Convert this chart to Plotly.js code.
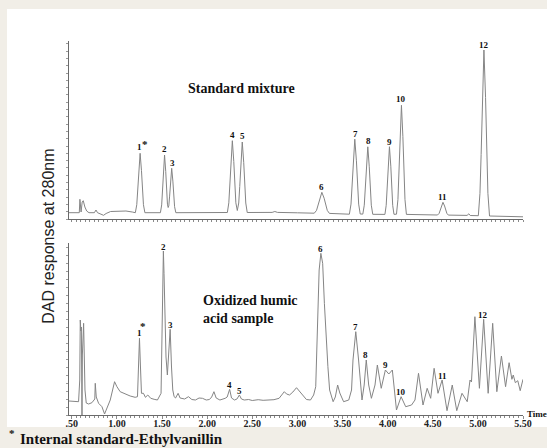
<!DOCTYPE html>
<html>
<head>
<meta charset="utf-8">
<script src="https://cdn.plot.ly/plotly-3.0.1.min.js"></script>
<style>
  html, body { margin: 0; padding: 0; background: #f1eee7; }
  #chart { width: 547px; height: 448px; }
</style>
</head>
<body>
<div id="chart"></div>
<script>
// ---- Data (retention time in min, DAD response in arbitrary units) ----
const timeTicks = [0.5, 1.0, 1.5, 2.0, 2.5, 3.0, 3.5, 4.0, 4.5, 5.0, 5.5];
const timeTickText = ['.50', '1.00', '1.50', '2.00', '2.50', '3.00', '3.50', '4.00', '4.50', '5.00', '5.50'];

// Standard mixture trace
const stdTime = [0.469,0.583,0.590,0.596,0.603,0.615,0.627,0.645,0.665,0.690,0.750,0.768,0.785,0.852,0.880,0.930,1.000,1.100,1.170,
  1.204,1.220,1.231,1.242,1.257,1.272,1.283,1.294,1.310,
  1.482,1.496,1.505,1.515,1.528,1.541,1.551,1.560,1.568,1.575,1.584,1.594,1.607,1.620,1.630,1.639,1.653,
  2.000,2.224,2.240,2.251,2.263,2.279,2.295,2.307,2.318,2.334,2.350,2.361,2.373,2.389,2.405,2.417,2.428,2.444,
  2.600,2.720,2.750,2.780,3.000,
  3.187,3.212,3.229,3.247,3.271,3.296,3.313,3.331,3.355,3.450,
  3.576,3.594,3.606,3.619,3.636,3.654,3.666,3.679,3.696,
  3.725,3.741,3.752,3.764,3.780,3.796,3.808,3.819,3.835,
  3.970,3.984,3.995,4.005,4.020,4.035,4.045,4.056,4.070,
  4.098,4.114,4.125,4.137,4.153,4.169,4.181,4.192,4.208,4.400,
  4.553,4.571,4.583,4.596,4.613,4.631,4.643,4.656,4.673,
  4.880,4.900,4.915,
  5.005,5.023,5.036,5.049,5.067,5.085,5.098,5.111,5.129,5.300,5.500];
const stdResponse = [6.3,6.3,19.7,8,7,17,18.3,12,8,6.3,6.3,9,6.3,3.7,5.5,7.5,8,8,7,
  6.3,14.3,28.2,48.6,65.7,48.6,28.2,14.3,6.3,
  6.3,14.1,27.6,47.4,64,47.4,27.6,14.8,11.5,13.2,22.9,37.9,50.7,37.9,22.7,12.3,6.3,
  6.5,6.5,16.2,33,57.6,78.3,57.6,33,16.2,8.5,16,32.5,56.7,77,56.7,32.5,16,6.5,
  6.5,6.6,7.5,6.6,6.2,
  5.8,8.6,13.5,20.8,26.7,20.8,13.5,8.6,5.6,5.1,
  4.8,14.9,32.5,58.2,79.8,58.2,32.5,14.9,5,
  4.9,13.8,29.6,52.8,72.2,52.8,29.6,13.8,4.7,
  4.6,13.7,29.6,52.8,72.3,52.8,29.6,13.7,4.7,
  4.8,19.4,44.9,82.3,113.7,82.3,44.9,19.4,4.6,4.2,
  4,5.7,8.7,13,16.7,13,8.7,5.7,3.9,
  3.6,5.2,3.5,
  3.3,25.7,64.6,121.5,169,121.5,64.6,25.7,3,2.6,2.2];

// Oxidized humic acid sample trace
const sampleTime = [0.469,0.575,0.588,0.594,0.600,0.606,0.610,0.613,0.617,0.624,0.631,0.638,0.646,0.660,0.686,0.723,0.755,0.760,0.771,
  0.797,0.834,0.863,0.889,0.926,0.974,1.000,1.036,1.092,1.147,1.202,1.228,1.239,1.250,1.261,1.272,1.294,1.316,1.342,1.375,1.412,1.449,
  1.489,1.500,1.507,1.515,1.522,1.533,1.544,1.559,1.575,1.590,1.605,1.619,1.634,1.650,1.678,1.700,1.750,1.793,1.830,1.870,1.910,1.948,
  1.990,2.025,2.050,2.075,2.100,2.141,2.200,2.222,2.249,2.270,2.303,2.330,2.357,2.380,2.411,2.460,2.500,2.566,2.620,2.680,2.740,2.797,
  2.830,2.855,2.880,2.913,2.950,2.990,3.030,3.068,3.100,3.145,3.180,3.203,3.222,3.241,3.260,3.280,3.299,3.318,3.338,3.357,3.396,3.420,
  3.446,3.470,3.512,3.569,3.600,3.616,3.647,3.678,3.716,3.740,3.763,3.790,3.820,3.860,3.886,3.929,3.975,4.013,4.052,4.075,4.098,4.149,
  4.200,4.265,4.303,4.342,4.392,4.438,4.477,4.515,4.558,4.604,4.658,4.716,4.766,4.824,4.882,4.913,4.929,4.967,5.017,5.064,5.114,5.164,
  5.210,5.261,5.307,5.346,5.377,5.392,5.415,5.442,5.469,5.500];
const sampleResponse = [14,13.3,35,95,84,88,55,0,60,86,91.7,60,25,12,11,12.3,16,31.7,18,
  11.7,8.3,1,6.7,15,33.3,28.3,23.3,21,19,17.7,18.3,48,76.7,48,21.7,21.7,17.7,20,16.7,15.7,15,
  21.7,75,135,164,141.7,108,58,40,65,85.7,48,25,18.3,17,21.7,17,16,18.3,15.5,15,17,16.7,
  15,15.5,18,23.3,17,15,16.7,18,25.7,17,15,16,20,16,15,15.5,14.5,15.3,14.7,15,15.3,16.7,
  20,23.3,21,20,23,27.3,23,18.3,15.5,15,20,28.3,95,145,161.7,151.7,111.7,78.3,48.3,25,13.3,18,
  30,22,13.3,15,25,55,83.3,55,15,30,55,30,16.7,30,50,26.7,45,41,45,25,5,18.3,
  8.3,10,15,41.7,10,26.7,16.7,46.7,21.7,35,4.3,30,4.3,21.7,13.3,35,33,98.3,26.7,95.7,21.7,91.7,
  23.3,59,28.3,52.3,35.7,40,32.3,34.3,24.3,35.7];

// Peak labels (label text, retention time, label height)
const stdPeakIds = ['1','*','2','3','4','5','6','7','8','9','10','11','12'];
const stdPeakTime = [1.246,1.312,1.528,1.614,2.279,2.393,3.271,3.644,3.788,4.020,4.153,4.613,5.067];
const stdPeakLabelY = [71.7,75,69.5,56,84,83,32.3,85.3,77.7,76.7,120,22.3,174];

const samplePeakIds = ['1','*','2','3','4','5','6','7','8','9','10','11','12'];
const samplePeakTime = [1.247,1.294,1.515,1.590,2.245,2.357,3.253,3.639,3.755,3.975,4.149,4.604,5.056];
const samplePeakLabelY = [81.7,89,168.5,90,30,24.3,166.5,88.3,60,50,22.7,39.3,100];

const panelLabels = ['Standard mixture', 'Oxidized humic<br>acid sample'];
const yTitle = 'DAD response at 280nm';
const xUnit = 'Time';
const footnote = 'Internal standard-Ethylvanillin';

// ---- Figure ----
const W = 547, H = 448;
const M = {l: 69, r: 24, t: 0, b: 0};
const plotW = W - M.l - M.r;
const px2paperX = px => (px - M.l) / plotW;
const px2paperY = py => 1 - py / H;

const serif = 'Liberation Serif, Times New Roman, serif';
const sans = 'Liberation Sans, Arial, sans-serif';
const traceColor = '#858585';
const axisColor = '#6a6a6a';

const traces = [
  {x: stdTime, y: stdResponse, xaxis: 'x', yaxis: 'y', type: 'scatter', mode: 'lines',
   line: {color: traceColor, width: 1}, hoverinfo: 'skip'},
  {x: sampleTime, y: sampleResponse, xaxis: 'x2', yaxis: 'y2', type: 'scatter', mode: 'lines',
   line: {color: traceColor, width: 1}, hoverinfo: 'skip'}
];

const annotations = [];
function peakLabel(id, t, v, xr, yr) {
  const star = id === '*';
  annotations.push({
    x: t, y: v, xref: xr, yref: yr, text: id, showarrow: false,
    xanchor: 'center', yanchor: 'middle',
    font: {family: serif, size: star ? 11 : 9, color: '#111', weight: 'bold'}
  });
}
stdPeakIds.forEach((id, i) => peakLabel(id, stdPeakTime[i], stdPeakLabelY[i], 'x', 'y'));
samplePeakIds.forEach((id, i) => peakLabel(id, samplePeakTime[i], samplePeakLabelY[i], 'x2', 'y2'));

annotations.push({x: 2.386, y: 130.7, xref: 'x', yref: 'y', text: panelLabels[0], showarrow: false,
  xanchor: 'center', yanchor: 'middle', font: {family: serif, size: 14, color: '#111', weight: 'bold'}});
annotations.push({x: 1.927, y: 105.2, xref: 'x2', yref: 'y2', text: panelLabels[1], showarrow: false,
  xanchor: 'left', yanchor: 'middle', align: 'left',
  font: {family: serif, size: 14, color: '#111', weight: 'bold'}});

annotations.push({x: px2paperX(49), y: px2paperY(236.7), xref: 'paper', yref: 'paper', text: yTitle,
  showarrow: false, textangle: -90, xanchor: 'center', yanchor: 'middle',
  font: {family: sans, size: 16, color: '#222'}});
annotations.push({x: px2paperX(537), y: px2paperY(414), xref: 'paper', yref: 'paper', text: xUnit,
  showarrow: false, xanchor: 'center', yanchor: 'middle',
  font: {family: serif, size: 9, color: '#111', weight: 'bold'}});
annotations.push({x: px2paperX(12), y: px2paperY(433), xref: 'paper', yref: 'paper', text: '*',
  showarrow: false, xanchor: 'center', yanchor: 'middle',
  font: {family: serif, size: 11, color: '#111', weight: 'bold'}});
annotations.push({x: px2paperX(18), y: px2paperY(439), xref: 'paper', yref: 'paper', text: footnote,
  showarrow: false, xanchor: 'left', yanchor: 'middle',
  font: {family: serif, size: 15, color: '#111', weight: 'bold'}});

const baseX = {
  range: [0.469, 5.5], domain: [0, 1], showline: true, linecolor: axisColor, linewidth: 1,
  showgrid: false, zeroline: false, fixedrange: true, automargin: false,
  ticks: 'outside', tickcolor: '#8a8a8a', tickwidth: 1
};
const baseY = {
  showline: true, linecolor: axisColor, linewidth: 1, showgrid: false, zeroline: false,
  fixedrange: true, automargin: false, ticks: 'outside', ticklen: 2, tickcolor: '#9a9a9a',
  tickwidth: 1, showticklabels: false, tickmode: 'linear', tick0: 0
};

const layout = {
  width: W, height: H, margin: M, showlegend: false,
  paper_bgcolor: '#f1eee7', plot_bgcolor: 'rgba(0,0,0,0)',
  xaxis: Object.assign({}, baseX, {anchor: 'y', tickmode: 'linear', tick0: 0.5, dtick: 0.05,
    ticklen: 2, showticklabels: false}),
  yaxis: Object.assign({}, baseY, {anchor: 'x', domain: [px2paperY(219), px2paperY(41)],
    range: [0, 178], dtick: 7.3}),
  xaxis2: Object.assign({}, baseX, {anchor: 'y2', tickmode: 'array', tickvals: timeTicks,
    ticktext: timeTickText, ticklen: 3, ticklabelstandoff: -4,
    tickfont: {family: serif, size: 10, color: '#222', weight: 'bold'},
    minor: {tickmode: 'linear', tick0: 0.5, dtick: 0.05, ticklen: 2, ticks: 'outside', tickcolor: '#8a8a8a'}}),
  yaxis2: Object.assign({}, baseY, {anchor: 'x2', domain: [px2paperY(415), px2paperY(243.3)],
    range: [0, 171.7], dtick: 8}),
  shapes: [{type: 'rect', xref: 'paper', yref: 'paper', layer: 'below',
    x0: px2paperX(7), x1: px2paperX(547), y0: px2paperY(427), y1: px2paperY(9),
    fillcolor: '#ffffff', line: {width: 0}}],
  annotations: annotations
};

Plotly.newPlot('chart', traces, layout, {staticPlot: true, displayModeBar: false});
</script>
</body>
</html>
